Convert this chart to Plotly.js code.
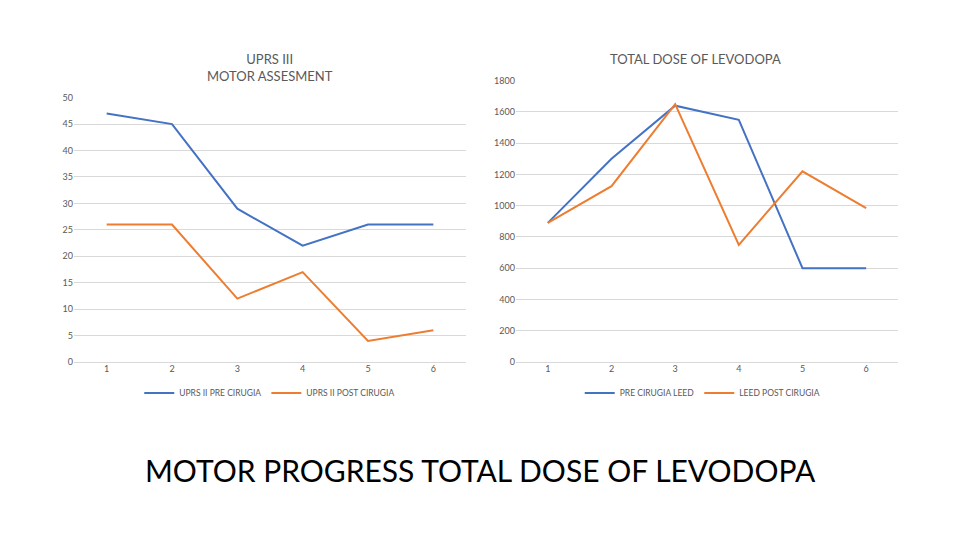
<!DOCTYPE html>
<html>
<head>
<meta charset="utf-8">
<script src="https://cdn.plot.ly/plotly-3.0.1.min.js"></script>
<style>html,body{margin:0;padding:0;background:#fff;}#chart{width:960px;height:540px;}</style>
</head>
<body>
<div id="chart"></div>
<script>
const sessions = [1, 2, 3, 4, 5, 6];
const uprsPre = [47, 45, 29, 22, 26, 26];
const uprsPost = [26, 26, 12, 17, 4, 6];
const leedPre = [890, 1300, 1640, 1550, 600, 600];
const leedPost = [890, 1125, 1650, 750, 1220, 985];

const BLUE = '#4472C4', ORANGE = '#ED7D31';
const FONT = 'Lato, "Open Sans", sans-serif';

const traces = [
  {x: sessions, y: uprsPre, name: 'UPRS II PRE CIRUGIA', type: 'scatter', mode: 'lines',
   line: {color: BLUE, width: 2}, xaxis: 'x', yaxis: 'y', legend: 'legend'},
  {x: sessions, y: uprsPost, name: 'UPRS II POST CIRUGIA', type: 'scatter', mode: 'lines',
   line: {color: ORANGE, width: 2}, xaxis: 'x', yaxis: 'y', legend: 'legend'},
  {x: sessions, y: leedPre, name: 'PRE CIRUGIA LEED', type: 'scatter', mode: 'lines',
   line: {color: BLUE, width: 2}, xaxis: 'x2', yaxis: 'y2', legend: 'legend2'},
  {x: sessions, y: leedPost, name: 'LEED POST CIRUGIA', type: 'scatter', mode: 'lines',
   line: {color: ORANGE, width: 2}, xaxis: 'x2', yaxis: 'y2', legend: 'legend2'}
];

const tickFont = {family: FONT, size: 9, color: '#595959'};
const xBase = {range: [0.5, 6.5], tickvals: sessions, ticktext: sessions.map(String),
  showgrid: false, zeroline: false, showline: false, ticks: '', tickfont: tickFont, fixedrange: true};
const yBase = {showgrid: true, gridcolor: '#D9D9D9', gridwidth: 1, zeroline: true,
  zerolinecolor: '#D9D9D9', zerolinewidth: 1, showline: false,
  ticks: '', tickfont: tickFont, fixedrange: true};

const layout = {
  width: 960, height: 540,
  margin: {l: 0, r: 0, t: 0, b: 0},
  paper_bgcolor: '#FFFFFF', plot_bgcolor: '#FFFFFF',
  font: {family: FONT, color: '#595959'},
  xaxis: Object.assign({}, xBase, {domain: [0.0771, 0.4854], anchor: 'y'}),
  yaxis: Object.assign({}, yBase, {domain: [0.3296, 0.8191], range: [0, 50], dtick: 5, anchor: 'x'}),
  xaxis2: Object.assign({}, xBase, {domain: [0.5375, 0.9354], anchor: 'y2'}),
  yaxis2: Object.assign({}, yBase, {domain: [0.3296, 0.8506], range: [0, 1800], dtick: 200, anchor: 'x2'}),
  legend: {orientation: 'h', x: 0.281, y: 0.272, xanchor: 'center', yanchor: 'middle',
    font: {family: FONT, size: 8.5, color: '#595959'}, bgcolor: 'rgba(0,0,0,0)', itemwidth: 30},
  legend2: {orientation: 'h', x: 0.732, y: 0.272, xanchor: 'center', yanchor: 'middle',
    font: {family: FONT, size: 8.5, color: '#595959'}, bgcolor: 'rgba(0,0,0,0)', itemwidth: 30},
  showlegend: true,
  annotations: [
    {text: 'UPRS III<br>MOTOR ASSESMENT', xref: 'paper', yref: 'paper', x: 0.2813, y: 1 - 67/540,
     xanchor: 'center', yanchor: 'middle', showarrow: false,
     font: {family: FONT, size: 13, color: '#595959'}},
    {text: 'TOTAL DOSE OF LEVODOPA', xref: 'paper', yref: 'paper', x: 0.7240, y: 1 - 59/540,
     xanchor: 'center', yanchor: 'middle', showarrow: false,
     font: {family: FONT, size: 13, color: '#595959'}},
    {text: 'MOTOR PROGRESS TOTAL DOSE OF LEVODOPA', xref: 'paper', yref: 'paper', x: 0.5, y: 1 - 470/540,
     xanchor: 'center', yanchor: 'middle', showarrow: false,
     font: {family: FONT, size: 30, color: '#000000'}}
  ]
};

Plotly.newPlot('chart', traces, layout, {staticPlot: true, displayModeBar: false});
</script>
</body>
</html>
